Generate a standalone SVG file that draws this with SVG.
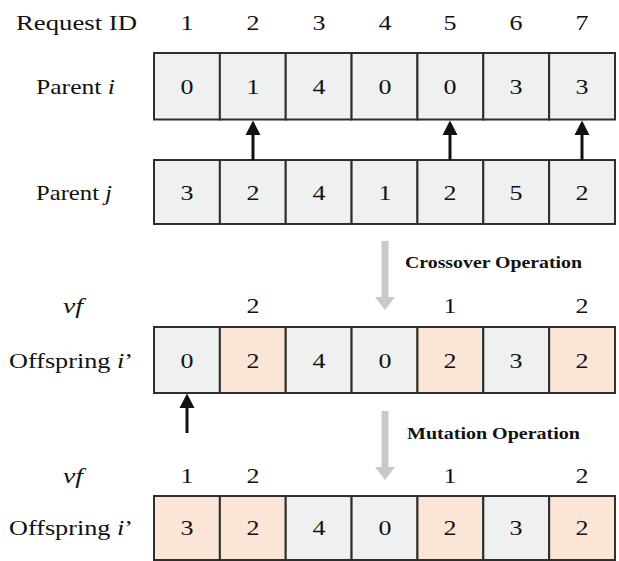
<svg xmlns="http://www.w3.org/2000/svg" width="619" height="561" viewBox="0 0 619 561">
  <style>
    text { font-family: "Liberation Serif", "Times New Roman", serif; font-size: 22px; fill: #111; }
    .n { text-anchor: middle; }
    .op { font-weight: bold; font-size: 16.5px; }
    .g { fill: #eff0f0; stroke: #2e2e2e; stroke-width: 2; }
    .o { fill: #fbe5d6; stroke: #2e2e2e; stroke-width: 2; }
    .arr { stroke: #111; stroke-width: 3; fill: none; }
    .ah { fill: #111; }
    .garr { fill: #c8c9cb; }
  </style>

  <!-- header row -->
  <g id="header">
    <text x="16" y="29.5" textLength="121" lengthAdjust="spacingAndGlyphs">Request ID</text>
    <text class="n" x="187" y="29.5" textLength="13" lengthAdjust="spacingAndGlyphs">1</text>
    <text class="n" x="253" y="29.5" textLength="13" lengthAdjust="spacingAndGlyphs">2</text>
    <text class="n" x="319" y="29.5" textLength="13" lengthAdjust="spacingAndGlyphs">3</text>
    <text class="n" x="385" y="29.5" textLength="13" lengthAdjust="spacingAndGlyphs">4</text>
    <text class="n" x="450" y="29.5" textLength="13" lengthAdjust="spacingAndGlyphs">5</text>
    <text class="n" x="516" y="29.5" textLength="13" lengthAdjust="spacingAndGlyphs">6</text>
    <text class="n" x="582" y="29.5" textLength="13" lengthAdjust="spacingAndGlyphs">7</text>
  </g>

  <!-- Parent i -->
  <g id="parent-i">
    <text x="36" y="93.5" textLength="79" lengthAdjust="spacingAndGlyphs">Parent <tspan font-style="italic">i</tspan></text>
    <rect class="g" x="154" y="53" width="65.86" height="66.5"/>
    <rect class="g" x="219.86" y="53" width="65.86" height="66.5"/>
    <rect class="g" x="285.72" y="53" width="65.86" height="66.5"/>
    <rect class="g" x="351.58" y="53" width="65.86" height="66.5"/>
    <rect class="g" x="417.44" y="53" width="65.86" height="66.5"/>
    <rect class="g" x="483.3" y="53" width="65.86" height="66.5"/>
    <rect class="g" x="549.16" y="53" width="65.86" height="66.5"/>
    <text class="n" x="187" y="93.5" textLength="13" lengthAdjust="spacingAndGlyphs">0</text>
    <text class="n" x="253" y="93.5" textLength="13" lengthAdjust="spacingAndGlyphs">1</text>
    <text class="n" x="319" y="93.5" textLength="13" lengthAdjust="spacingAndGlyphs">4</text>
    <text class="n" x="385" y="93.5" textLength="13" lengthAdjust="spacingAndGlyphs">0</text>
    <text class="n" x="450" y="93.5" textLength="13" lengthAdjust="spacingAndGlyphs">0</text>
    <text class="n" x="516" y="93.5" textLength="13" lengthAdjust="spacingAndGlyphs">3</text>
    <text class="n" x="582" y="93.5" textLength="13" lengthAdjust="spacingAndGlyphs">3</text>
  </g>

  <!-- Parent j -->
  <g id="parent-j">
    <text x="36" y="199.5" textLength="76" lengthAdjust="spacingAndGlyphs">Parent <tspan font-style="italic">j</tspan></text>
    <rect class="g" x="154" y="160" width="65.86" height="64"/>
    <rect class="g" x="219.86" y="160" width="65.86" height="64"/>
    <rect class="g" x="285.72" y="160" width="65.86" height="64"/>
    <rect class="g" x="351.58" y="160" width="65.86" height="64"/>
    <rect class="g" x="417.44" y="160" width="65.86" height="64"/>
    <rect class="g" x="483.3" y="160" width="65.86" height="64"/>
    <rect class="g" x="549.16" y="160" width="65.86" height="64"/>
    <text class="n" x="187" y="199.5" textLength="13" lengthAdjust="spacingAndGlyphs">3</text>
    <text class="n" x="253" y="199.5" textLength="13" lengthAdjust="spacingAndGlyphs">2</text>
    <text class="n" x="319" y="199.5" textLength="13" lengthAdjust="spacingAndGlyphs">4</text>
    <text class="n" x="385" y="199.5" textLength="13" lengthAdjust="spacingAndGlyphs">1</text>
    <text class="n" x="450" y="199.5" textLength="13" lengthAdjust="spacingAndGlyphs">2</text>
    <text class="n" x="516" y="199.5" textLength="13" lengthAdjust="spacingAndGlyphs">5</text>
    <text class="n" x="582" y="199.5" textLength="13" lengthAdjust="spacingAndGlyphs">2</text>
  </g>

  <!-- Crossover offspring -->
  <g id="offspring-crossover">
    <text x="63" y="313" textLength="20" lengthAdjust="spacingAndGlyphs" font-style="italic">vf</text>
    <text class="n" x="253" y="313" textLength="13" lengthAdjust="spacingAndGlyphs">2</text>
    <text class="n" x="450" y="313" textLength="13" lengthAdjust="spacingAndGlyphs">1</text>
    <text class="n" x="582" y="313" textLength="13" lengthAdjust="spacingAndGlyphs">2</text>
    <text x="9" y="367.5" textLength="124" lengthAdjust="spacingAndGlyphs">Offspring <tspan font-style="italic">i</tspan>’</text>
    <rect class="g" x="154" y="327" width="65.86" height="66"/>
    <rect class="o" x="219.86" y="327" width="65.86" height="66"/>
    <rect class="g" x="285.72" y="327" width="65.86" height="66"/>
    <rect class="g" x="351.58" y="327" width="65.86" height="66"/>
    <rect class="o" x="417.44" y="327" width="65.86" height="66"/>
    <rect class="g" x="483.3" y="327" width="65.86" height="66"/>
    <rect class="o" x="549.16" y="327" width="65.86" height="66"/>
    <text class="n" x="187" y="367.5" textLength="13" lengthAdjust="spacingAndGlyphs">0</text>
    <text class="n" x="253" y="367.5" textLength="13" lengthAdjust="spacingAndGlyphs">2</text>
    <text class="n" x="319" y="367.5" textLength="13" lengthAdjust="spacingAndGlyphs">4</text>
    <text class="n" x="385" y="367.5" textLength="13" lengthAdjust="spacingAndGlyphs">0</text>
    <text class="n" x="450" y="367.5" textLength="13" lengthAdjust="spacingAndGlyphs">2</text>
    <text class="n" x="516" y="367.5" textLength="13" lengthAdjust="spacingAndGlyphs">3</text>
    <text class="n" x="582" y="367.5" textLength="13" lengthAdjust="spacingAndGlyphs">2</text>
  </g>

  <!-- Mutation offspring -->
  <g id="offspring-mutation">
    <text x="63" y="483" textLength="20" lengthAdjust="spacingAndGlyphs" font-style="italic">vf</text>
    <text class="n" x="187" y="483" textLength="13" lengthAdjust="spacingAndGlyphs">1</text>
    <text class="n" x="253" y="483" textLength="13" lengthAdjust="spacingAndGlyphs">2</text>
    <text class="n" x="450" y="483" textLength="13" lengthAdjust="spacingAndGlyphs">1</text>
    <text class="n" x="582" y="483" textLength="13" lengthAdjust="spacingAndGlyphs">2</text>
    <text x="9" y="535" textLength="124" lengthAdjust="spacingAndGlyphs">Offspring <tspan font-style="italic">i</tspan>’</text>
    <rect class="o" x="154" y="496" width="65.86" height="64"/>
    <rect class="o" x="219.86" y="496" width="65.86" height="64"/>
    <rect class="g" x="285.72" y="496" width="65.86" height="64"/>
    <rect class="g" x="351.58" y="496" width="65.86" height="64"/>
    <rect class="o" x="417.44" y="496" width="65.86" height="64"/>
    <rect class="g" x="483.3" y="496" width="65.86" height="64"/>
    <rect class="o" x="549.16" y="496" width="65.86" height="64"/>
    <text class="n" x="187" y="535" textLength="13" lengthAdjust="spacingAndGlyphs">3</text>
    <text class="n" x="253" y="535" textLength="13" lengthAdjust="spacingAndGlyphs">2</text>
    <text class="n" x="319" y="535" textLength="13" lengthAdjust="spacingAndGlyphs">4</text>
    <text class="n" x="385" y="535" textLength="13" lengthAdjust="spacingAndGlyphs">0</text>
    <text class="n" x="450" y="535" textLength="13" lengthAdjust="spacingAndGlyphs">2</text>
    <text class="n" x="516" y="535" textLength="13" lengthAdjust="spacingAndGlyphs">3</text>
    <text class="n" x="582" y="535" textLength="13" lengthAdjust="spacingAndGlyphs">2</text>
  </g>

  <!-- connectors -->
  <g id="connectors">
    <line class="arr" x1="253" y1="160" x2="253" y2="132"/>
    <polygon class="ah" points="253,120.5 245.5,135 260.5,135"/>
    <line class="arr" x1="450" y1="160" x2="450" y2="132"/>
    <polygon class="ah" points="450,120.5 442.5,135 457.5,135"/>
    <line class="arr" x1="582" y1="160" x2="582" y2="132"/>
    <polygon class="ah" points="582,120.5 574.5,135 589.5,135"/>
    <line class="arr" x1="187" y1="433" x2="187" y2="405"/>
    <polygon class="ah" points="187,393.5 179.5,408 194.5,408"/>

    <polygon class="garr" points="381.5,241 388.5,241 388.5,297 395,297 385,310 375,297 381.5,297"/>
    <text class="op" x="405" y="268" textLength="177" lengthAdjust="spacingAndGlyphs">Crossover Operation</text>
    <polygon class="garr" points="381.5,411 388.5,411 388.5,467 395,467 385,480 375,467 381.5,467"/>
    <text class="op" x="407" y="439" textLength="173" lengthAdjust="spacingAndGlyphs">Mutation Operation</text>
  </g>
</svg>
